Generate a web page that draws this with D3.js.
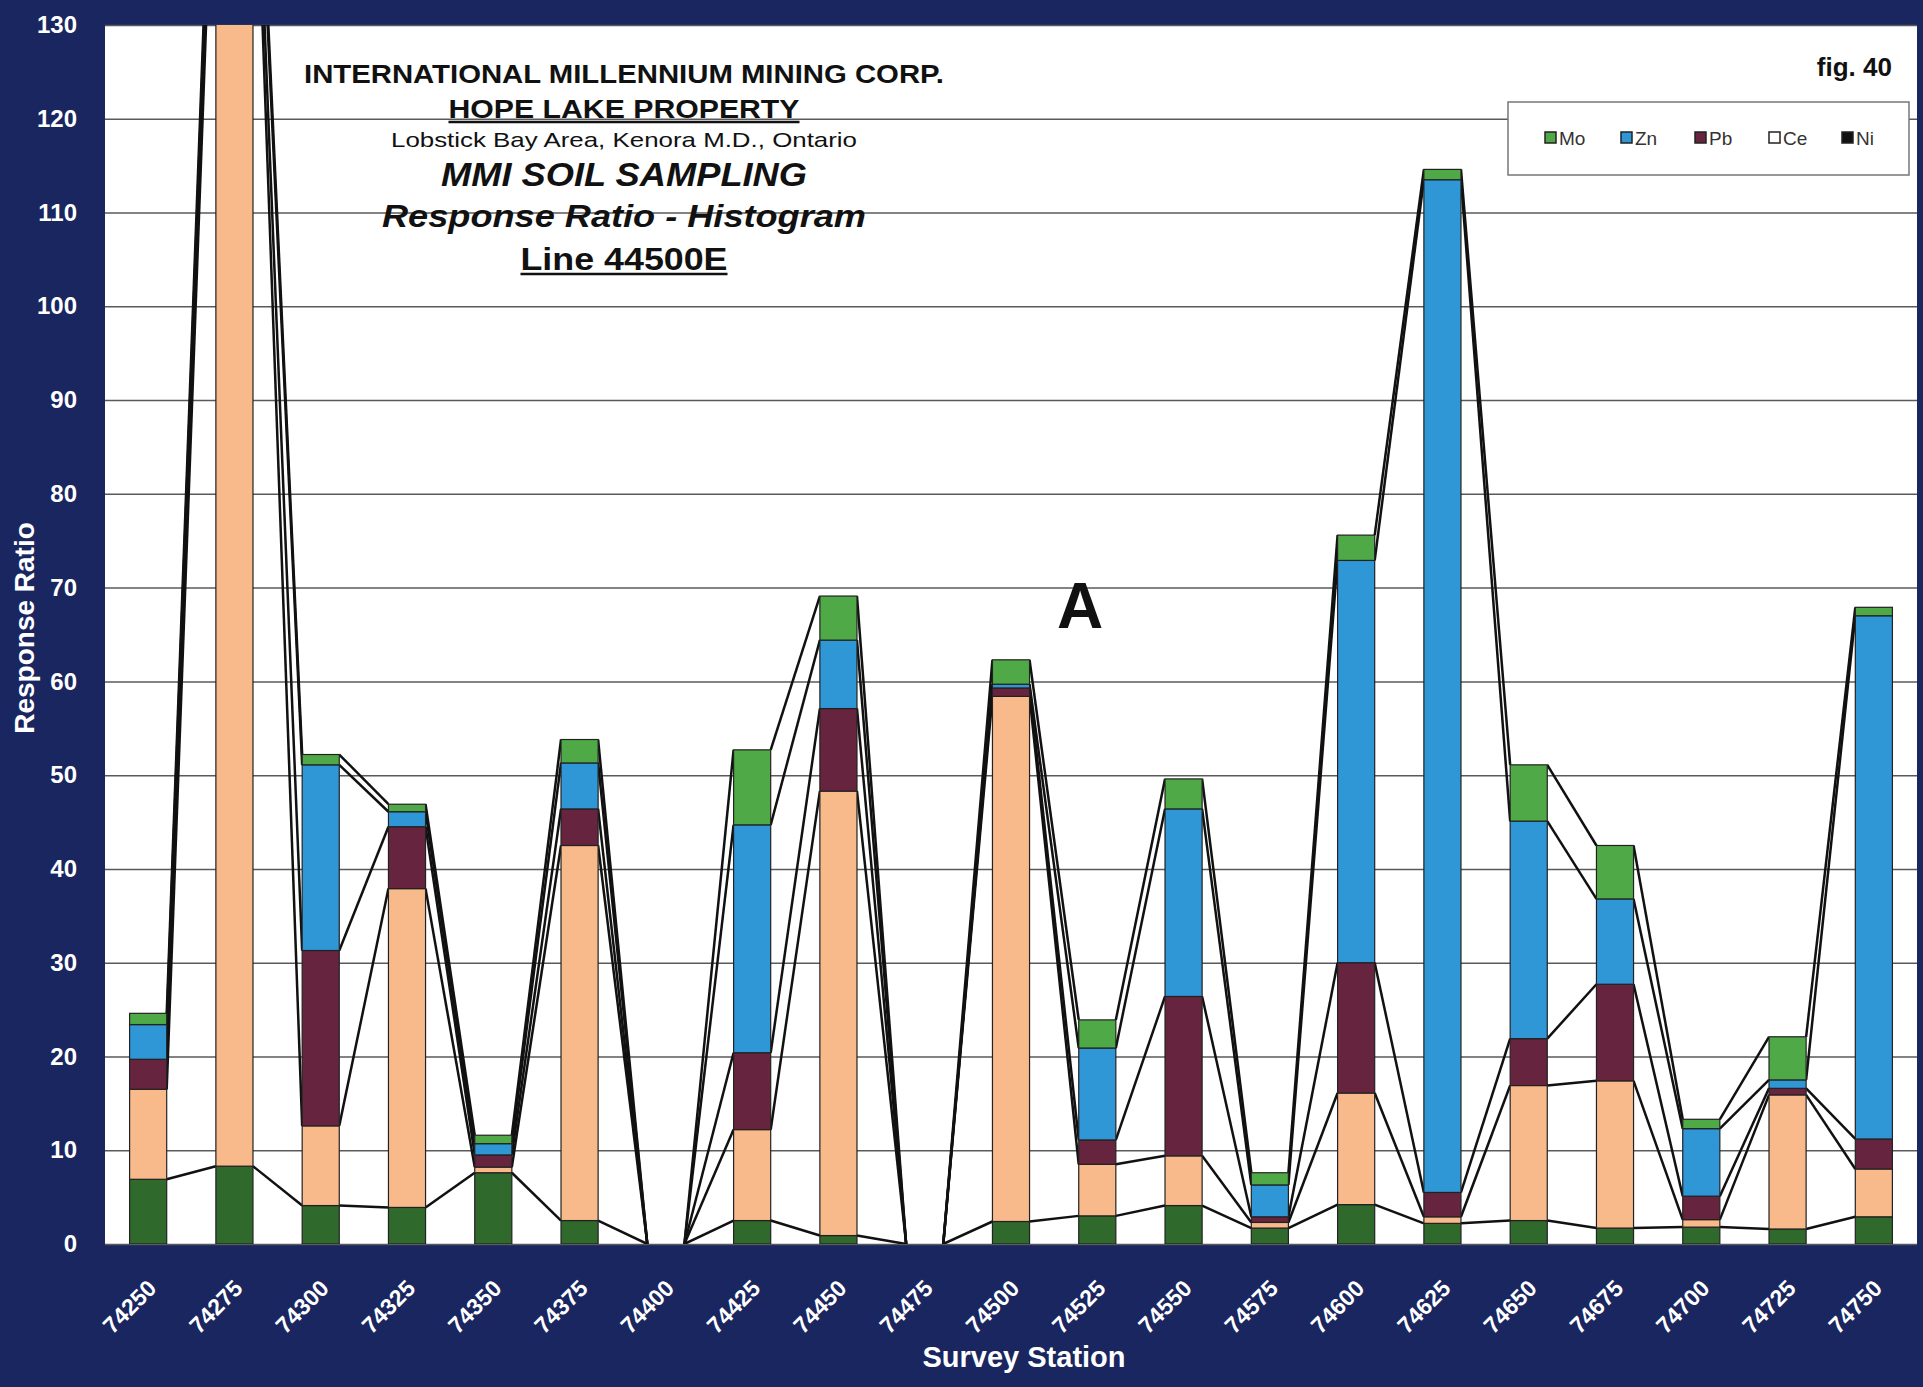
<!DOCTYPE html>
<html>
<head>
<meta charset="utf-8">
<script src="https://cdn.jsdelivr.net/npm/d3@7"></script>
<style>
  html, body { margin: 0; padding: 0; background: #1a2660; }
  svg { display: block; }
  text { font-family: "Liberation Sans", Arial, sans-serif; }
</style>
</head>
<body>
<svg id="chart" width="1923" height="1387"></svg>
<script>
// ---------------- DATA ----------------
const stations = ["74250","74275","74300","74325","74350","74375","74400","74425","74450","74475",
                  "74500","74525","74550","74575","74600","74625","74650","74675","74700","74725","74750"];
const seriesNames = ["Ni", "Ce", "Pb", "Zn", "Mo"];   // stacking order, bottom to top
const ni = [6.9, 8.3, 4.1, 3.9, 7.6, 2.5, 0, 2.5, 0.9, 0, 2.4, 3.0, 4.1, 1.7, 4.2, 2.2, 2.5, 1.7, 1.8, 1.6, 2.9];
const ce = [9.6, 150, 8.5, 34.0, 0.6, 40.0, 0, 9.7, 47.4, 0, 56.0, 5.5, 5.3, 0.6, 11.9, 0.7, 14.4, 15.7, 0.8, 14.3, 5.1];
const pb = [3.2, 2.0, 18.7, 6.6, 1.3, 3.9, 0, 8.2, 8.8, 0, 0.9, 2.6, 17.0, 0.6, 13.9, 2.6, 5.0, 10.3, 2.5, 0.7, 3.2];
const zn = [3.7, 3.0, 19.8, 1.6, 1.2, 4.9, 0, 24.3, 7.3, 0, 0.4, 9.8, 20.0, 3.4, 42.9, 108.0, 23.2, 9.1, 7.2, 0.9, 55.8];
const mo = [1.2, 2.0, 1.1, 0.8, 0.9, 2.5, 0, 8.0, 4.7, 0, 2.6, 3.0, 3.2, 1.3, 2.7, 1.1, 6.0, 5.7, 1.0, 4.6, 0.9];
const legendOrder = ["Mo", "Zn", "Pb", "Ce", "Ni"];
const yTicks = [0,10,20,30,40,50,60,70,80,90,100,110,120,130];
const titleLines = [
  "INTERNATIONAL MILLENNIUM MINING CORP.",
  "HOPE LAKE PROPERTY",
  "Lobstick Bay Area, Kenora M.D., Ontario",
  "MMI SOIL SAMPLING",
  "Response Ratio - Histogram",
  "Line 44500E"
];

// ---------------- STYLE ----------------
const colors = { Ni: "#2f6a2c", Ce: "#f8b98b", Pb: "#67243f", Zn: "#2f97d6", Mo: "#4ea946" };
const legendSwatch = { Mo: "#4ea946", Zn: "#2f97d6", Pb: "#67243f", Ce: "#ffffff", Ni: "#111111" };
const navy = "#1a2660";

const W = 1923, H = 1387;
const plot = { left: 105, right: 1917, top: 25, bottom: 1244 };

const svg = d3.select("#chart");
svg.append("rect").attr("width", W).attr("height", H).attr("fill", navy);
svg.append("rect").attr("x", plot.left).attr("y", plot.top)
  .attr("width", plot.right - plot.left).attr("height", plot.bottom - plot.top).attr("fill", "#ffffff");

const x = d3.scaleBand().domain(stations).range([plot.left, plot.right]).paddingInner(0.57).paddingOuter(0.285);
const y = d3.scaleLinear().domain([0, 130]).range([plot.bottom, plot.top]);

svg.append("defs").append("clipPath").attr("id", "clip")
  .append("rect").attr("x", plot.left).attr("y", plot.top)
  .attr("width", plot.right - plot.left).attr("height", plot.bottom - plot.top);

// gridlines
const grid = svg.append("g").attr("transform", `translate(${plot.left},0)`)
  .call(d3.axisLeft(y).tickValues(yTicks).tickSize(-(plot.right - plot.left)).tickFormat(""));
grid.select(".domain").remove();
grid.selectAll("line").attr("stroke", "#5a5a5a").attr("stroke-width", 1.5);

// y tick labels
const yAxis = svg.append("g").attr("transform", `translate(${plot.left},0)`)
  .call(d3.axisLeft(y).tickValues(yTicks).tickSize(0).tickPadding(28));
yAxis.select(".domain").remove();
yAxis.selectAll("text").attr("fill", "#ffffff").attr("font-size", 24).attr("font-weight", "bold")
  .style("font-family", '"Liberation Sans", Arial, sans-serif');

// stacked data
const table = stations.map((s, i) => ({ station: s, Ni: ni[i], Ce: ce[i], Pb: pb[i], Zn: zn[i], Mo: mo[i] }));
const stacked = d3.stack().keys(seriesNames)(table);

const plotG = svg.append("g").attr("clip-path", "url(#clip)");

// series lines (connect stack tops between neighbouring bars)
stacked.forEach(layer => {
  for (let i = 0; i < stations.length - 1; i++) {
    const a = layer[i], b = layer[i + 1];
    plotG.append("line")
      .attr("x1", x(stations[i]) + x.bandwidth()).attr("y1", y(a[1]))
      .attr("x2", x(stations[i + 1])).attr("y2", y(b[1]))
      .attr("stroke", "#111").attr("stroke-width", 2.5);
  }
});

// bars
plotG.selectAll("g.layer").data(stacked).join("g").attr("class", "layer")
  .attr("fill", d => colors[d.key])
  .selectAll("rect").data(d => d).join("rect")
  .attr("x", d => x(d.data.station))
  .attr("width", x.bandwidth())
  .attr("y", d => y(d[1]))
  .attr("height", d => Math.max(0, y(d[0]) - y(d[1])))
  .attr("stroke", "#222").attr("stroke-width", 1.2);

// x axis labels
const xAxis = svg.append("g").attr("transform", `translate(0,${plot.bottom})`)
  .call(d3.axisBottom(x).tickSize(0).tickPadding(0));
xAxis.select(".domain").remove();
xAxis.selectAll("text")
  .attr("fill", "#ffffff").attr("font-size", 23).attr("font-weight", "bold")
  .style("font-family", '"Liberation Sans", Arial, sans-serif')
  .attr("text-anchor", "end")
  .attr("transform", "translate(4,40) rotate(-45)")
  .attr("dy", "0.35em").attr("y", 0);

// axis titles
svg.append("text").attr("x", 1024).attr("y", 1367).attr("text-anchor", "middle")
  .attr("fill", "#ffffff").attr("font-size", 29).attr("font-weight", "bold").text("Survey Station");
svg.append("text").attr("transform", "translate(34,628) rotate(-90)").attr("text-anchor", "middle")
  .attr("fill", "#ffffff").attr("font-size", 28).attr("font-weight", "bold").text("Response Ratio");

// title block
const tspec = [
  { y: 83,  size: 25, weight: "bold",   style: "normal", len: 640, ul: false },
  { y: 118, size: 25, weight: "bold",   style: "normal", len: 351, ul: true },
  { y: 147, size: 21, weight: "normal", style: "normal", len: 466, ul: false },
  { y: 186, size: 33, weight: "bold",   style: "italic", len: 366, ul: false },
  { y: 227, size: 32, weight: "bold",   style: "italic", len: 484, ul: false },
  { y: 270, size: 32, weight: "bold",   style: "normal", len: 207, ul: true }
];
const tg = svg.append("g");
titleLines.forEach((t, i) => {
  const s = tspec[i];
  tg.append("text").attr("x", 624).attr("y", s.y).attr("text-anchor", "middle")
    .attr("font-size", s.size).attr("font-weight", s.weight).attr("font-style", s.style)
    .attr("fill", "#111").attr("textLength", s.len).attr("lengthAdjust", "spacingAndGlyphs").text(t);
  if (s.ul) {
    tg.append("line").attr("x1", 624 - s.len / 2).attr("x2", 624 + s.len / 2)
      .attr("y1", s.y + 4).attr("y2", s.y + 4).attr("stroke", "#111").attr("stroke-width", 2.5);
  }
});

svg.append("text").attr("x", 1892).attr("y", 76).attr("text-anchor", "end")
  .attr("font-size", 26).attr("font-weight", "bold").attr("fill", "#111").text("fig. 40");

svg.append("text").attr("x", 1080).attr("y", 628).attr("text-anchor", "middle")
  .attr("font-size", 64).attr("font-weight", "bold").attr("fill", "#111").text("A");

// legend
const lg = svg.append("g");
lg.append("rect").attr("x", 1508).attr("y", 102).attr("width", 401).attr("height", 73)
  .attr("fill", "#ffffff").attr("stroke", "#777").attr("stroke-width", 1.5);
const lx = [1545, 1621, 1695, 1769, 1842];
legendOrder.forEach((k, i) => {
  lg.append("rect").attr("x", lx[i]).attr("y", 132).attr("width", 11).attr("height", 11)
    .attr("fill", legendSwatch[k]).attr("stroke", "#222").attr("stroke-width", 1.5);
  lg.append("text").attr("x", lx[i] + 14).attr("y", 145).attr("font-size", 19)
    .attr("fill", "#333").text(k);
});
</script>
</body>
</html>
